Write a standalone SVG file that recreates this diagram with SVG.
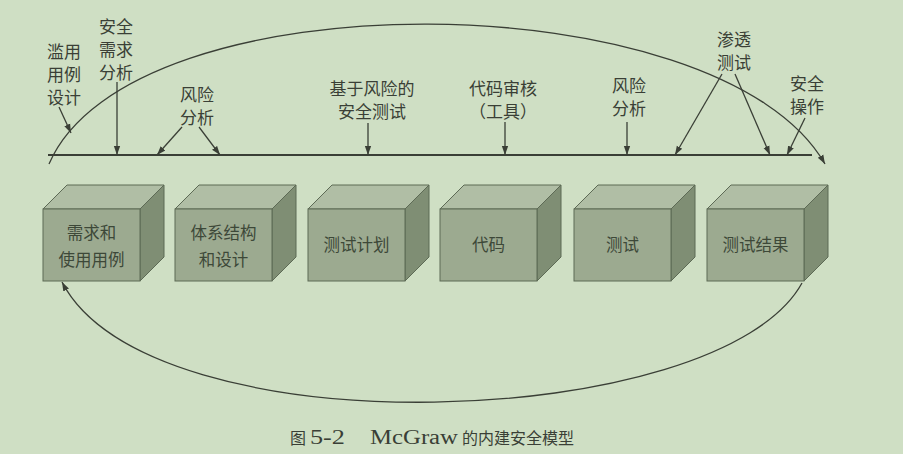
<svg xmlns="http://www.w3.org/2000/svg" width="903" height="454" viewBox="0 0 903 454">
<defs>
<marker id="ah" viewBox="0 0 10 10" refX="10" refY="5" markerWidth="9" markerHeight="9" markerUnits="userSpaceOnUse" orient="auto">
<path d="M0,1.5 L10,5 L0,8.5 Z" fill="#3a3f36"/>
</marker>
<style>
.bg{fill:#cfdfc4}
.ln{fill:none;stroke:#3a3f36;stroke-width:1.3}
.tl{fill:none;stroke:#3a3f36;stroke-width:2}
.front{fill:#9caa90;stroke:#5d6a55;stroke-width:1}
.top{fill:#b0bea5;stroke:#5d6a55;stroke-width:1}
.side{fill:#7f8e74;stroke:#5d6a55;stroke-width:1}
.lbl{font-family:"Noto Sans CJK SC","Liberation Sans",sans-serif;font-size:17px;fill:#3a3f36;text-anchor:middle}
.bx{font-family:"Noto Sans CJK SC","Liberation Sans",sans-serif;font-size:16.5px;fill:#3d4838;text-anchor:middle}
.cap{font-family:"Noto Sans CJK SC","Liberation Serif",serif;font-size:16px;fill:#3a3f36}
.capl{font-family:"Liberation Serif","Noto Sans CJK SC",serif;font-size:20px;fill:#3a3f36}
</style>
</defs>
<rect class="bg" x="0" y="0" width="903" height="454"/>

<g id="connectors">
<line class="tl" x1="48" y1="155" x2="812" y2="155"/>
<path class="ln" d="M49,164 C130,-25 720,-20 825,164" marker-end="url(#ah)"/>
<path class="ln" d="M802,283 C720,432 150,452 62,282" marker-end="url(#ah)"/>
<line class="ln" x1="59" y1="107" x2="71" y2="133" marker-end="url(#ah)"/>
<line class="ln" x1="117" y1="82" x2="117" y2="155" marker-end="url(#ah)"/>
<line class="ln" x1="182" y1="127" x2="157" y2="155" marker-end="url(#ah)"/>
<line class="ln" x1="199" y1="127" x2="220" y2="155" marker-end="url(#ah)"/>
<line class="ln" x1="368" y1="123" x2="368" y2="155" marker-end="url(#ah)"/>
<line class="ln" x1="505" y1="122" x2="505" y2="155" marker-end="url(#ah)"/>
<line class="ln" x1="627" y1="122" x2="627" y2="155" marker-end="url(#ah)"/>
<line class="ln" x1="722" y1="74" x2="675" y2="155" marker-end="url(#ah)"/>
<line class="ln" x1="735" y1="74" x2="770" y2="155" marker-end="url(#ah)"/>
<line class="ln" x1="805" y1="118" x2="787" y2="155" marker-end="url(#ah)"/>
</g>

<g id="labels">
<text class="lbl"><tspan x="64" y="58">滥用</tspan><tspan x="64" y="81">用例</tspan><tspan x="64" y="104">设计</tspan></text>
<text class="lbl"><tspan x="116" y="33">安全</tspan><tspan x="116" y="56">需求</tspan><tspan x="116" y="79">分析</tspan></text>
<text class="lbl"><tspan x="197" y="101">风险</tspan><tspan x="197" y="124">分析</tspan></text>
<text class="lbl"><tspan x="372" y="95">基于风险的</tspan><tspan x="372" y="118">安全测试</tspan></text>
<text class="lbl"><tspan x="503" y="95">代码审核</tspan><tspan x="503" y="118">（工具）</tspan></text>
<text class="lbl"><tspan x="629" y="92">风险</tspan><tspan x="629" y="115">分析</tspan></text>
<text class="lbl"><tspan x="734" y="46">渗透</tspan><tspan x="734" y="69">测试</tspan></text>
<text class="lbl"><tspan x="807" y="90">安全</tspan><tspan x="807" y="113">操作</tspan></text>
</g>

<g id="box1">
<polygon class="top" points="43,209 67,185 164,185 140,209"/>
<polygon class="side" points="140,209 164,185 164,257 140,281"/>
<rect class="front" x="43" y="209" width="97" height="72"/>
<text class="bx"><tspan x="91.5" y="239">需求和</tspan><tspan x="91.5" y="266">使用用例</tspan></text>
</g>
<g id="box2">
<polygon class="top" points="175,209 199,185 296,185 272,209"/>
<polygon class="side" points="272,209 296,185 296,257 272,281"/>
<rect class="front" x="175" y="209" width="97" height="72"/>
<text class="bx"><tspan x="223.5" y="239">体系结构</tspan><tspan x="223.5" y="266">和设计</tspan></text>
</g>
<g id="box3">
<polygon class="top" points="308,209 332,185 429,185 405,209"/>
<polygon class="side" points="405,209 429,185 429,257 405,281"/>
<rect class="front" x="308" y="209" width="97" height="72"/>
<text class="bx" x="356.5" y="251">测试计划</text>
</g>
<g id="box4">
<polygon class="top" points="440,209 464,185 561,185 537,209"/>
<polygon class="side" points="537,209 561,185 561,257 537,281"/>
<rect class="front" x="440" y="209" width="97" height="72"/>
<text class="bx" x="488.5" y="251">代码</text>
</g>
<g id="box5">
<polygon class="top" points="574,209 598,185 695,185 671,209"/>
<polygon class="side" points="671,209 695,185 695,257 671,281"/>
<rect class="front" x="574" y="209" width="97" height="72"/>
<text class="bx" x="622.5" y="251">测试</text>
</g>
<g id="box6">
<polygon class="top" points="707,209 731,185 828,185 804,209"/>
<polygon class="side" points="804,209 828,185 828,257 804,281"/>
<rect class="front" x="707" y="209" width="97" height="72"/>
<text class="bx" x="755.5" y="251">测试结果</text>
</g>

<g id="caption">
<text class="cap" x="290" y="444">图</text>
<text class="capl" x="310" y="444" textLength="35" lengthAdjust="spacingAndGlyphs">5-2</text>
<text class="capl" x="370" y="444" textLength="88" lengthAdjust="spacingAndGlyphs">McGraw</text>
<text class="cap" x="462" y="444">的内建安全模型</text>
</g>
</svg>
